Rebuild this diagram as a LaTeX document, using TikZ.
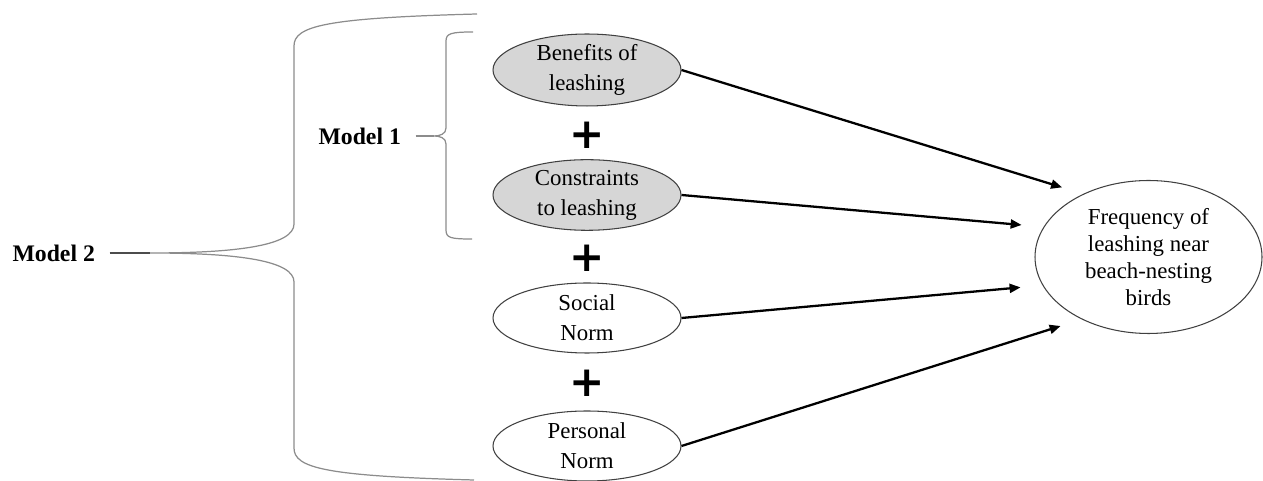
\documentclass[tikz,border=0pt]{standalone}
\usepackage{fontspec}
\setmainfont{Liberation Serif}
\newfontfamily\plusfont{DejaVu Sans}
\usetikzlibrary{shapes.geometric,arrows.meta}

\tikzset{
    factor/.style={ellipse, draw=black!75, line width=0.6pt, inner sep=0pt,
        minimum width=3.76cm, minimum height=1.40cm, align=center,
        font=\fontsize{13}{17}\selectfont},
    shaded/.style={factor, fill=gray!32},
    plussign/.style={font=\plusfont\fontsize{24}{24}\bfseries\selectfont, inner sep=0pt},
    modellabel/.style={font=\fontsize{13.5}{16}\bfseries\selectfont, inner sep=1pt},
    bracket/.style={draw=gray!90, line width=0.7pt},
    effect/.style={line width=1.3pt, -{Triangle[length=2.2mm,width=1.8mm]}, shorten >=0.44cm}
}

\begin{document}
\begin{tikzpicture}
    \useasboundingbox (0,0) rectangle (25.26,9.62);

    % Praediktoriai
    \node[shaded] (ben) at (11.74,8.22) {Benefits of\\leashing};
    \node[shaded] (con) at (11.74,5.72) {Constraints\\to leashing};
    \node[factor] (soc) at (11.74,3.26) {Social\\Norm};
    \node[factor] (per) at (11.74,0.70) {Personal\\Norm};

    % Priklausomas kintamasis
    \node[factor, minimum width=4.54cm, minimum height=3.06cm,
        font=\fontsize{13}{15.5}\selectfont] (freq) at (22.97,4.48)
        {Frequency of\\leashing near\\beach-nesting\\birds};

    \foreach \n/\y in {p1/6.92, p2/4.46, p3/1.96} {
        \node[plussign] (\n) at (11.74,\y) {+};
    }

    % Rodykles
    \draw[effect] (ben.east) -- (freq.136.5);
    \draw[effect] (con.east) -- (freq.164.4);
    \draw[effect] (soc.east) -- (freq.195.6);
    \draw[effect] (per.east) -- (freq.223.5);

    % Model 1 skliaustas
    \node[modellabel, anchor=east] (m1) at (8.06,6.90) {Model 1};
    \coordinate (tip1) at (8.68,6.90);
    \draw[bracket] (9.46,8.98) .. controls (9.02,8.98) and (8.92,8.95) .. (8.92,8.80)
        -- (8.92,7.06) .. controls (8.92,6.94) and (8.80,6.90) .. (tip1)
        .. controls (8.80,6.90) and (8.92,6.86) .. (8.92,6.74)
        -- (8.92,5.02) .. controls (8.92,4.86) and (9.02,4.84) .. (9.44,4.84);
    \draw[bracket] ([xshift=0.25cm]m1.east) -- (tip1);

    % Model 2 skliaustas
    \node[modellabel, anchor=east] (m2) at (1.94,4.56) {Model 2};
    \coordinate (tip2) at (3.00,4.56);
    \draw[bracket] (9.54,9.34) .. controls (6.50,9.26) and (5.88,9.10) .. (5.88,8.70)
        -- (5.88,5.14) .. controls (5.88,4.72) and (4.80,4.56) .. (tip2)
        .. controls (4.80,4.56) and (5.88,4.40) .. (5.88,3.98)
        -- (5.88,0.66) .. controls (5.88,0.26) and (6.50,0.10) .. (9.48,0.02);
    \draw[bracket, draw=black!70] ([xshift=0.25cm]m2.east) -- (tip2);
\end{tikzpicture}
\end{document}
